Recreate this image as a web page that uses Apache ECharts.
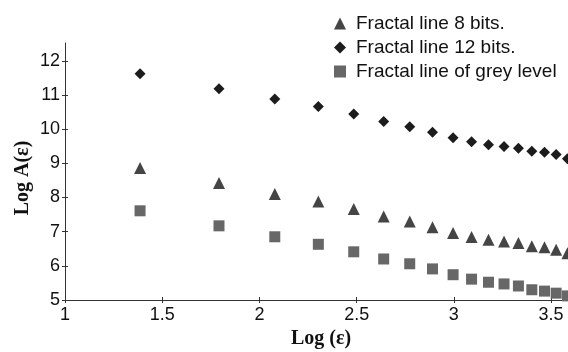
<!DOCTYPE html>
<html>
<head>
<meta charset="utf-8">
<script src="https://cdn.jsdelivr.net/npm/echarts@6/dist/echarts.min.js"></script>
<style>
  html, body { margin: 0; padding: 0; background: #fff; }
  #chart { width: 568px; height: 352px; }
</style>
</head>
<body>
<div id="chart"></div>
<script>
// Log(eps) positions, shared by all three series
const logEps = [1.386, 1.792, 2.079, 2.303, 2.485, 2.639, 2.773, 2.890, 2.996,
  3.091, 3.178, 3.258, 3.332, 3.401, 3.466, 3.526, 3.584];

const line8bits = [8.86, 8.42, 8.10, 7.88, 7.66, 7.44, 7.30, 7.13, 6.96,
  6.84, 6.76, 6.71, 6.67, 6.57, 6.54, 6.47, 6.37];
const line12bits = [11.62, 11.18, 10.88, 10.66, 10.44, 10.22, 10.07, 9.91, 9.75,
  9.63, 9.54, 9.49, 9.44, 9.35, 9.32, 9.26, 9.13];
const greyLevel = [7.61, 7.17, 6.85, 6.63, 6.41, 6.20, 6.06, 5.91, 5.74,
  5.61, 5.52, 5.47, 5.41, 5.30, 5.26, 5.20, 5.12];

const xTicks = [1, 1.5, 2, 2.5, 3, 3.5];
const yTicks = [5, 6, 7, 8, 9, 10, 11, 12];

const seriesNames = ["Fractal line 8 bits.", "Fractal line 12 bits.", "Fractal line of grey level"];

function pairs(ys) {
  return logEps.map((x, i) => [x, ys[i]]);
}

const chart = echarts.init(document.getElementById("chart"));

const axisColor = "#333";
const sans = "Liberation Sans";
const serif = "Liberation Serif";

function xAxisDef(inside, main) {
  return {
    type: "value",
    min: 1,
    max: 3.587,
    position: "bottom",
    name: main ? "Log (\u03b5)" : "",
    nameLocation: "middle",
    nameGap: 29,
    nameTextStyle: { fontFamily: serif, fontWeight: "bold", fontSize: 20, color: "#111", padding: [0, 0, 0, 9] },
    axisLine: { show: main, onZero: false, lineStyle: { color: axisColor, width: 1 } },
    axisTick: { show: true, inside, length: 3, customValues: xTicks, lineStyle: { color: axisColor } },
    axisLabel: { show: main, customValues: xTicks, margin: 6, fontFamily: sans, fontSize: 18, color: "#111" },
    splitLine: { show: false },
  };
}

function yAxisDef(inside, main) {
  return {
    type: "value",
    min: 5,
    max: 12.52,
    position: "left",
    name: main ? "Log A(\u03b5)" : "",
    nameLocation: "middle",
    nameGap: 32,
    nameMoveOverlap: false,
    nameTextStyle: { fontFamily: serif, fontWeight: "bold", fontSize: 20, color: "#111", padding: [0, 13, 0, 0] },
    axisLine: { show: main, onZero: false, lineStyle: { color: axisColor, width: 1 } },
    axisTick: { show: true, inside, length: 3, customValues: yTicks, lineStyle: { color: axisColor } },
    axisLabel: { show: main, customValues: yTicks, margin: 5, fontFamily: sans, fontSize: 18, color: "#111" },
    splitLine: { show: false },
  };
}

const option = {
  animation: false,
  grid: { left: 65, right: 0, top: 43, bottom: 52, outerBoundsMode: "none" },
  legend: {
    orient: "vertical",
    left: 329,
    top: 9,
    itemGap: 5,
    itemWidth: 12,
    itemHeight: 12,
    textStyle: { fontFamily: sans, fontSize: 19, color: "#111", padding: [0, 0, 0, 5] },
    data: seriesNames,
  },
  xAxis: [xAxisDef(false, true), xAxisDef(true, false)],
  yAxis: [yAxisDef(false, true), yAxisDef(true, false)],
  series: [
    {
      type: "scatter",
      name: seriesNames[0],
      symbol: "triangle",
      symbolSize: 12,
      itemStyle: { color: "#454545", opacity: 1 },
      data: pairs(line8bits),
    },
    {
      type: "scatter",
      name: seriesNames[1],
      symbol: "diamond",
      symbolSize: 11,
      itemStyle: { color: "#1c1c1c", opacity: 1 },
      data: pairs(line12bits),
    },
    {
      type: "scatter",
      name: seriesNames[2],
      symbol: "rect",
      symbolSize: 11,
      itemStyle: { color: "#676767", opacity: 1 },
      data: pairs(greyLevel),
    },
  ],
};

chart.setOption(option);
</script>
</body>
</html>
